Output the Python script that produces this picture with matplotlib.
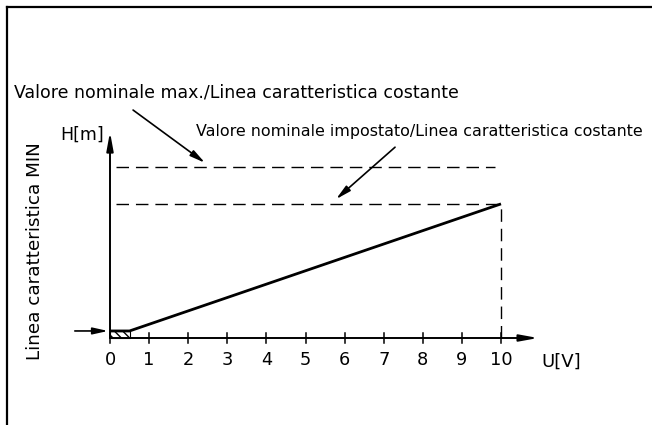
import matplotlib.pyplot as plt
from matplotlib.lines import Line2D
from matplotlib.patches import Rectangle

# characteristic data (U in V, H in arbitrary head units)
u_ticks = [0, 1, 2, 3, 4, 5, 6, 7, 8, 9, 10]
u_char = [0, 0.5, 10]
h_min = 0.18
h_set = 3.43
h_max = 4.37
h_char = [h_min, h_min, h_set]
u_max_end = 9.85

label_max = "Valore nominale max./Linea caratteristica costante"
label_set = "Valore nominale impostato/Linea caratteristica costante"
label_min = "Linea caratteristica MIN"

PX = 39.1  # pixels per unit
fig = plt.figure(figsize=(6.52, 4.25), dpi=100)
ax = fig.add_axes([0, 0, 1, 1])
ax.set_xlim(-110 / PX, (652 - 110) / PX)
ax.set_ylim(-87 / PX, 338 / PX)
ax.axis("off")

# outer frame (top and left only visible)
fig.add_artist(Line2D([7 / 652, 1], [1 - 7 / 425] * 2, color="black", lw=1.6))
fig.add_artist(Line2D([7 / 652] * 2, [0, 1 - 7 / 425], color="black", lw=1.6))

plt.rcParams["hatch.linewidth"] = 1.0

arrow = dict(arrowstyle="-|>,head_length=1.1,head_width=0.2", color="black", lw=1.4, shrinkA=0, shrinkB=0)
# axes
ax.annotate("", xy=(0, 5.27), xytext=(0, 0), arrowprops=arrow)
ax.annotate("", xy=(10.95, 0), xytext=(0, 0), arrowprops=arrow)
for u in u_ticks:
    ax.plot([u, u], [-0.13, 0.13], color="black", lw=1.1)
    ax.text(u, -0.56, str(u), ha="center", va="center", fontsize=12.8)

ax.text(-0.72, 5.19, "H[m]", ha="center", va="center", fontsize=12.5)
ax.text(11.55, -0.6, "U[V]", ha="center", va="center", fontsize=13)
ax.text(-1.92, 2.22, label_min, rotation=90, ha="center", va="center", fontsize=13.2)

# dashed reference lines
dash = dict(color="black", lw=1.0, linestyle=(0, (9, 5)))
ax.plot([0.15, u_max_end], [h_max, h_max], **dash)
ax.plot([0.15, 10], [h_set, h_set], **dash)
ax.plot([10, 10], [0, h_set], **dash)

# hatched zone and characteristic line
ax.add_patch(Rectangle((0, 0), 0.5, h_min, facecolor="none", edgecolor="black",
                       hatch="\\\\\\\\", lw=0.8))
ax.plot(u_char, h_char, color="black", lw=2.0, solid_capstyle="butt")

# pointer arrows
ptr = dict(arrowstyle="-|>,head_length=0.9,head_width=0.2", color="black", lw=1.2, shrinkA=0, shrinkB=0)
ax.annotate("", xy=(-0.05, h_min), xytext=(-0.9, h_min), arrowprops=ptr)
ax.annotate("", xy=(2.43, 4.48), xytext=(0.59, 5.83), arrowprops=ptr)
ax.annotate("", xy=(5.78, 3.55), xytext=(7.29, 4.88), arrowprops=ptr)

ax.text(-2.455, 6.29, label_max, ha="left", va="center", fontsize=12.5)
ax.text(2.2, 5.27, label_set, ha="left", va="center", fontsize=11.4)

fig.savefig("out.png", dpi=100)
